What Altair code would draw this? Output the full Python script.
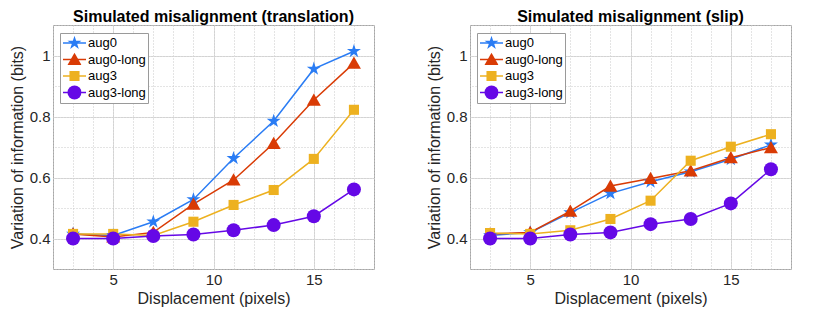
import altair as alt
import pandas as pd

# ---------------- data ----------------
displacement = [3, 5, 7, 9, 11, 13, 15, 17]
series_names = ["aug0", "aug0-long", "aug3", "aug3-long"]

trans_aug0 = [0.415, 0.410, 0.455, 0.528, 0.663, 0.785, 0.956, 1.014]
trans_aug0_long = [0.415, 0.405, 0.420, 0.513, 0.592, 0.712, 0.854, 0.975]
trans_aug3 = [0.415, 0.415, 0.410, 0.455, 0.510, 0.559, 0.661, 0.822]
trans_aug3_long = [0.400, 0.400, 0.408, 0.413, 0.427, 0.444, 0.473, 0.561]

slip_aug0 = [0.410, 0.420, 0.485, 0.548, 0.586, 0.619, 0.660, 0.707]
slip_aug0_long = [0.415, 0.420, 0.490, 0.572, 0.597, 0.622, 0.665, 0.698]
slip_aug3 = [0.418, 0.415, 0.427, 0.464, 0.524, 0.655, 0.701, 0.742]
slip_aug3_long = [0.400, 0.400, 0.413, 0.420, 0.447, 0.464, 0.515, 0.627]

x_major_ticks = [5, 10, 15]
x_minor_ticks = list(range(2, 19))
y_major_ticks = [0.4, 0.6, 0.8, 1.0]
y_minor_ticks = [0.3, 0.4, 0.5, 0.6, 0.7, 0.8, 0.9, 1.0, 1.1]
x_domain = [2, 18]
y_domain = [0.3, 1.1]

colors = ["#2a7cf4", "#d93b05", "#edb120", "#6508e6"]
star = ("M0,-1.05L0.236,-0.324L0.999,-0.324L0.381,0.124L0.617,0.849L0,0.401"
        "L-0.617,0.849L-0.381,0.124L-0.999,-0.324L-0.236,-0.324Z")
triangle = "M0,-0.95L1,0.8L-1,0.8Z"
square = "M-0.72,-0.72L0.72,-0.72L0.72,0.72L-0.72,0.72Z"
shapes = [star, triangle, square, "circle"]

FONT = "Liberation Sans"


def make_df(vals):
    rows = []
    for name, ys in zip(series_names, vals):
        for xv, yv in zip(displacement, ys):
            rows.append({"x": xv, "y": yv, "series": name, "series_l": name})
    return pd.DataFrame(rows)


df_trans = make_df([trans_aug0, trans_aug0_long, trans_aug3, trans_aug3_long])
df_slip = make_df([slip_aug0, slip_aug0_long, slip_aug3, slip_aug3_long])

LEG_X, LEG_Y = 7, 8


def panel(df, title):
    xs = alt.Scale(domain=x_domain, nice=False, zero=False)
    ys = alt.Scale(domain=y_domain, nice=False, zero=False)
    line_legend = alt.Legend(
        orient="none", legendX=LEG_X, legendY=LEG_Y, title=None,
        symbolType="stroke", symbolSize=529, symbolStrokeWidth=1.5,
        clipHeight=16, rowPadding=0.5, padding=2, labelOffset=1,
        labelFont=FONT, labelFontSize=13, labelColor="black",
        fillColor="white", strokeColor="#9a9a9a", zindex=1,
    )
    mark_legend = alt.Legend(
        orient="none", legendX=LEG_X, legendY=LEG_Y, title=None,
        symbolSize=196, symbolStrokeWidth=0, symbolOffset=5.5,
        clipHeight=16, rowPadding=0.5, padding=2, labelOffset=0,
        labelExpr="''", labelFontSize=1, zindex=2,
    )
    lines = alt.Chart(df).mark_line(strokeWidth=1.5).encode(
        x=alt.X("x:Q", scale=xs, axis=alt.Axis(
            values=x_major_ticks, title="Displacement (pixels)", grid=True,
            gridColor="#dddddd", gridWidth=1, labelPadding=3, titlePadding=3)),
        y=alt.Y("y:Q", scale=ys, axis=alt.Axis(
            values=y_major_ticks, format="~g", title="Variation of information (bits)",
            grid=True, gridColor="#dddddd", gridWidth=1, labelPadding=3, titlePadding=4)),
        stroke=alt.Stroke("series_l:N", scale=alt.Scale(range=colors), legend=line_legend),
    )
    pts = alt.Chart(df).mark_point(filled=True, size=196, opacity=1, strokeWidth=0).encode(
        x=alt.X("x:Q", scale=xs, axis=alt.Axis(
            orient="top", values=x_minor_ticks, grid=True, gridDash=[1, 2],
            gridColor="#c8c8c8", labels=False, ticks=False, domain=False, title=None)),
        y=alt.Y("y:Q", scale=ys, axis=alt.Axis(
            orient="right", values=y_minor_ticks, grid=True, gridDash=[1, 2],
            gridColor="#c8c8c8", labels=False, ticks=False, domain=False, title=None)),
        fill=alt.Fill("series:N", scale=alt.Scale(range=colors), legend=mark_legend),
        shape=alt.Shape("series:N", scale=alt.Scale(range=shapes), legend=mark_legend),
    )
    return alt.layer(lines, pts).resolve_axis(x="independent", y="independent").properties(
        width=321, height=244,
        title=alt.Title(title, fontSize=16, fontWeight="bold", font=FONT, color="black",
                        offset=0, anchor="middle", frame="group"),
    )


left = panel(df_trans, "Simulated misalignment (translation)")
right = panel(df_slip, "Simulated misalignment (slip)")

chart = alt.hconcat(left, right, spacing=50).resolve_scale(
    stroke="independent", fill="independent", shape="independent"
).properties(
    padding={"left": 0, "top": 0, "right": 5, "bottom": 0},
    background="white",
).configure_view(
    stroke="#a6a6a6", strokeWidth=1
).configure_axis(
    labelFont=FONT, labelFontSize=15, labelColor="#262626",
    titleFont=FONT, titleFontSize=16, titleFontWeight="normal", titleColor="#262626",
    domain=False, ticks=False,
)

chart.save("out.html", embed_options={"renderer": "svg", "actions": False})
